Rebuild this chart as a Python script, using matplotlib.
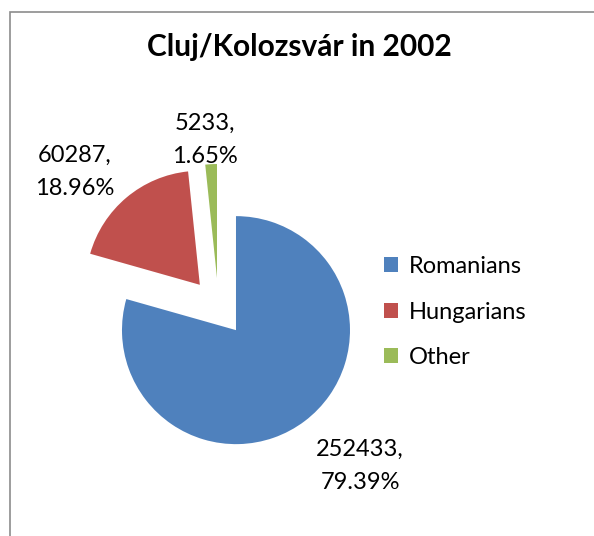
import matplotlib
matplotlib.use("Agg")
import matplotlib.pyplot as plt
from matplotlib.patches import Rectangle, Patch

categories = ["Romanians", "Hungarians", "Other"]
values = [252433, 60287, 5233]
percent_labels = ["79.39%", "18.96%", "1.65%"]
colors = ["#4F81BD", "#C0504D", "#9BBB59"]
title = "Cluj/Kolozsvár in 2002"

W, H = 594, 536
fig = plt.figure(figsize=(W / 100, H / 100), dpi=100)
ax = fig.add_axes([0, 0, 1, 1])
plt.rcParams['font.family'] = ['Lato', 'DejaVu Sans']
FAM = ['Lato', 'DejaVu Sans']

cx, cy = 218.5, H - 307
wedges, _ = ax.pie(values, colors=colors, startangle=90, counterclock=False,
                   explode=[29, 29, 29], radius=114, center=(cx, cy),
                   wedgeprops=dict(linewidth=0))
ax.set_xlim(0, W)
ax.set_ylim(0, H)
ax.set_aspect('auto')
ax.axis('off')

# border
ax.add_patch(Rectangle((10, -5), W, H - 12 + 5, fill=False, edgecolor="#8c8c8c",
                       linewidth=1.2))

ax.text(299, H - 47, title, ha='center', va='center', fontsize=21.5,
        fontweight='bold', family=FAM)

label_pos = [(360, 466), (75, 172), (205, 140)]
for (x, y), v, p in zip(label_pos, values, percent_labels):
    ax.text(x, H - y, f"{v},\n{p}", ha='center', va='center', fontsize=17,
            linespacing=1.75, family=FAM)

handles = [Patch(facecolor=c, edgecolor='none') for c in colors]
ax.legend(handles, categories, loc='center left',
          bbox_to_anchor=(363 / W, 1 - 312 / H), frameon=False,
          handlelength=0.6, handleheight=0.6,
          handletextpad=0.45, labelspacing=1.05,
          prop={'family': FAM, 'size': 17})

fig.savefig("out.png", dpi=100)
